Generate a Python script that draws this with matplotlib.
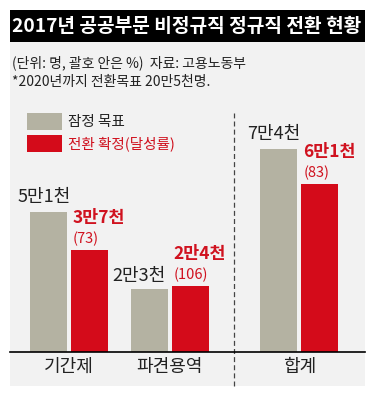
import matplotlib
matplotlib.use("Agg")
import matplotlib.pyplot as plt
from matplotlib.patches import Rectangle
import numpy as np

plt.rcParams["font.family"] = ["Noto Sans CJK KR", "DejaVu Sans"]

categories = ["기간제", "파견용역", "합계"]
target = [51, 23, 74]          # 잠정 목표 (천 명)
confirmed = [37, 24, 61]       # 전환 확정 (천 명)
target_labels = ["5만1천", "2만3천", "7만4천"]
confirmed_labels = ["3만7천", "2만4천", "6만1천"]
rates = ["(73)", "(106)", "(83)"]

GRAY = "#b4b2a2"
RED = "#d40b1a"
RED_TXT = "#d0121f"
BG = "#f2f2f2"

W, H = 372, 397
fig = plt.figure(figsize=(W / 100, H / 100), dpi=100)


def box(x0, y0, x1, y1):
    """pixel box (top-left origin) -> figure fraction rect"""
    return (x0 / W, 1 - y1 / H), (x1 - x0) / W, (y1 - y0) / H


# background panels
xy, w, h = box(10, 42, 365, 386)
fig.add_artist(Rectangle(xy, w, h, transform=fig.transFigure, fc=BG, ec="none", zorder=0))
xy, w, h = box(10, 10, 365, 42)
fig.add_artist(Rectangle(xy, w, h, transform=fig.transFigure, fc="black", ec="none", zorder=1))
fig.text(187 / W, 1 - 26 / H, "2017년 공공부문 비정규직 정규직 전환 현황", color="white",
         fontsize=13.8, fontweight="bold", ha="center", va="center")

fig.text(12 / W, 1 - 63 / H, "(단위: 명, 괄호 안은 %)  자료: 고용노동부", fontsize=10, va="center", color="#222222")
fig.text(12 / W, 1 - 82 / H, "*2020년까지 전환목표 20만5천명.", fontsize=10, va="center", color="#222222")

# legend
xy, w, h = box(27, 113, 62, 130)
fig.add_artist(Rectangle(xy, w, h, transform=fig.transFigure, fc=GRAY, ec="none"))
xy, w, h = box(27, 135, 62, 152)
fig.add_artist(Rectangle(xy, w, h, transform=fig.transFigure, fc=RED, ec="none"))
fig.text(68 / W, 1 - 122 / H, "잠정 목표", fontsize=10.5, va="center", color="#222222")
fig.text(68 / W, 1 - 144 / H, "전환 확정(달성률)", fontsize=10.5, va="center", color=RED_TXT)

# bar area: baseline at y=352px, 2.75 px per thousand
ax = fig.add_axes([10 / W, 1 - 352 / H, 355 / W, 310 / H])
ax.patch.set_visible(False)
scale = 100.5
x = np.array([0, 1, 2.29])
bw = 37 / scale
off = 20.5 / scale
ax.bar(x - off, target, width=bw, color=GRAY, zorder=2)
ax.bar(x + off, confirmed, width=bw, color=RED, zorder=2)
ax.set_xlim((10 - 69) / scale, (365 - 69) / scale)
ax.set_ylim(0, 310 / 2.75)

for s in ["top", "right", "left"]:
    ax.spines[s].set_visible(False)
ax.spines["bottom"].set_linewidth(1.2)
ax.set_yticks([])
ax.set_xticks(x, categories)
ax.tick_params(axis="x", length=0, pad=4, labelsize=13, labelcolor="#222222")

# dashed divider
ax.axvline((234 - 69) / scale, ymin=-34 / 310, ymax=(352 - 113) / 310, color="#444444",
           lw=0.9, ls=(0, (4, 2.5)), clip_on=False)

gray_dx = [-4, -10, -5]
gray_dy = [15, 13, 15]
for i in range(3):
    ax.annotate(target_labels[i], (x[i] - off, target[i]), xytext=(gray_dx[i], gray_dy[i]),
                textcoords="offset pixels", ha="center", va="center", fontsize=13, color="#222222")
    left = x[i] + off - bw / 2
    ax.annotate(confirmed_labels[i], (left, confirmed[i]), xytext=(2, 32),
                textcoords="offset pixels", ha="left", va="center", fontsize=12.5,
                fontweight="bold", color=RED_TXT)
    ax.annotate(rates[i], (left, confirmed[i]), xytext=(2, 11),
                textcoords="offset pixels", ha="left", va="center", fontsize=10.5, color=RED_TXT)

fig.savefig("out.png", dpi=100)
